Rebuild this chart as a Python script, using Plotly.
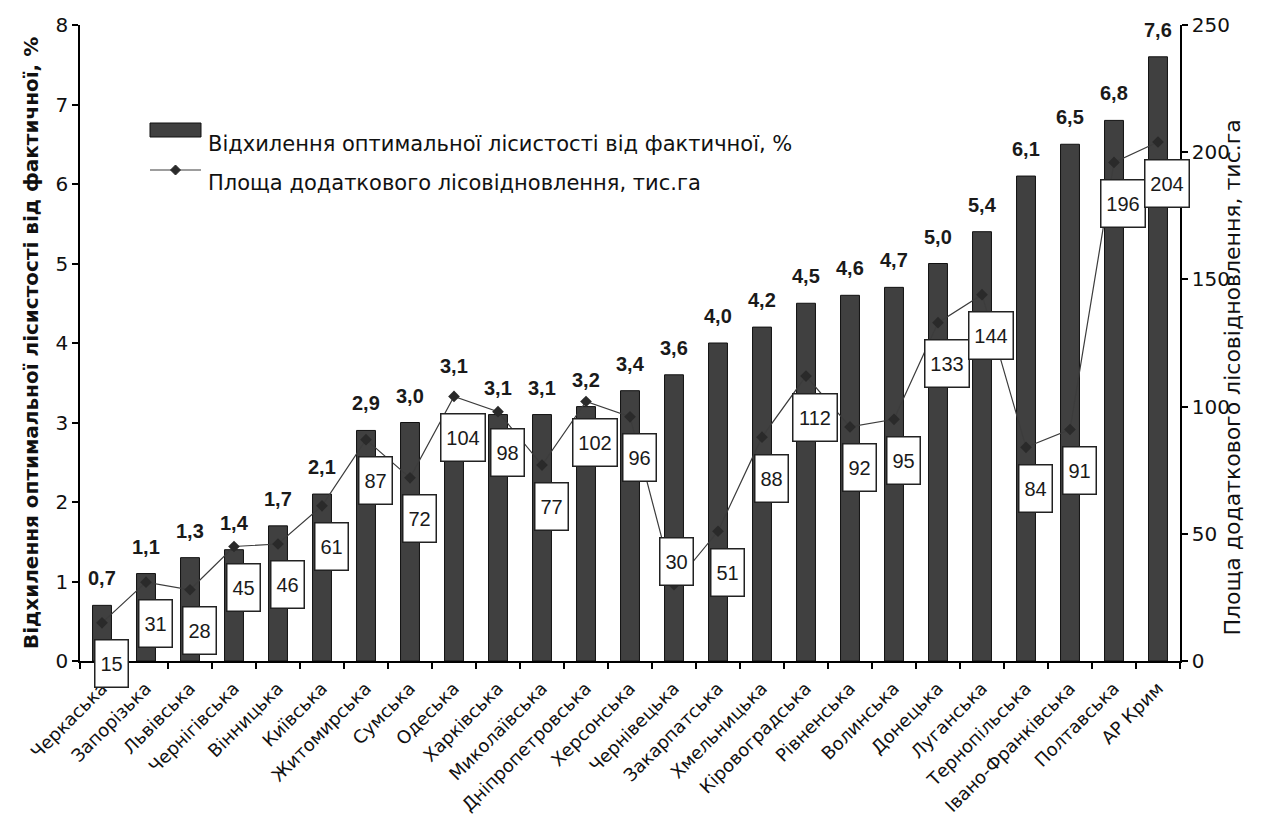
import plotly.graph_objects as go

# Regions of Ukraine, ordered by deviation
regions = [
    "Черкаська", "Запорізька", "Львівська", "Чернігівська", "Вінницька",
    "Київська", "Житомирська", "Сумська", "Одеська", "Харківська",
    "Миколаївська", "Дніпропетровська", "Херсонська", "Чернівецька",
    "Закарпатська", "Хмельницька", "Кіровоградська", "Рівненська",
    "Волинська", "Донецька", "Луганська", "Тернопільська",
    "Івано-Франківська", "Полтавська", "АР Крим",
]
# Deviation of optimal forest cover from actual, %
deviation_pct = [0.7, 1.1, 1.3, 1.4, 1.7, 2.1, 2.9, 3.0, 3.1, 3.1, 3.1, 3.2,
                 3.4, 3.6, 4.0, 4.2, 4.5, 4.6, 4.7, 5.0, 5.4, 6.1, 6.5, 6.8, 7.6]
# Area of additional reforestation, thousand ha
reforest_area = [15, 31, 28, 45, 46, 61, 87, 72, 104, 98, 77, 102, 96, 30,
                 51, 88, 112, 92, 95, 133, 144, 84, 91, 196, 204]

Y_MAX, Y2_MAX = 8, 250
W, H = 1264, 837
M_L, M_R, M_T, M_B = 80, 84, 25, 176
PLOT_W = W - M_L - M_R
PLOT_H = H - M_T - M_B
FONT = "Liberation Sans, Arial, sans-serif"
WIDE = "DejaVu Sans, Verdana, sans-serif"
DARK = "#404040"


def px_x(px):
    return (px - M_L) / PLOT_W


def px_y(py):
    return (H - M_B - py) / PLOT_H


fig = go.Figure()
fig.add_trace(go.Bar(
    x=regions, y=deviation_pct, yaxis="y",
    marker=dict(color=DARK, line=dict(color="#111111", width=1)),
    showlegend=False,
))
fig.add_trace(go.Scatter(
    x=regions, y=reforest_area, yaxis="y2", mode="lines+markers",
    line=dict(color="#3c3c3c", width=1.2),
    marker=dict(symbol="diamond", size=9, color="#2a2a2a"),
    showlegend=False,
))

annotations = []

# Bold value labels above the bars; lifted above the line marker when they would overlap it
for cat, b, v in zip(regions, deviation_pct, reforest_area):
    top = b / Y_MAX * PLOT_H
    centre = top + 27
    marker = v / Y2_MAX * PLOT_H
    if abs(marker - centre) < 14:
        centre = marker + 30
    annotations.append(dict(
        x=cat, y=b, xref="x", yref="y", text=f"{b:.1f}".replace(".", ","),
        showarrow=False, yanchor="middle", yshift=centre - top,
        font=dict(family=FONT, size=20, color="#1a1a1a", weight="bold"),
    ))

# Boxed labels for the reforestation line (placed above the point in a sharp dip)
for i, (cat, v) in enumerate(zip(regions, reforest_area)):
    prev_v = reforest_area[i - 1] if i > 0 else None
    next_v = reforest_area[i + 1] if i < len(reforest_area) - 1 else None
    dip = (prev_v is not None and next_v is not None
           and prev_v - v > 40 and next_v - v > 20)
    txt = str(v)
    annotations.append(dict(
        x=cat, y=v, xref="x", yref="y2", text=txt, showarrow=False,
        xshift=2 if dip else 9, yshift=23 if dip else -41,
        width=11 * len(txt) + 8, height=44,
        bgcolor="white", bordercolor="#222222", borderwidth=1.5, borderpad=1,
        font=dict(family=FONT, size=20, color="#1a1a1a"),
    ))

# Axis titles
annotations.append(dict(
    x=px_x(17), y=0.5, xref="paper", yref="paper", showarrow=False,
    text="Відхилення оптимальної лісистості від фактичної, %", textangle=-90,
    font=dict(family=WIDE, size=20, color="#111111", weight="bold"),
))
annotations.append(dict(
    x=px_x(1246), y=px_y(378), xref="paper", yref="paper", showarrow=False,
    text="Площа додаткового лісовідновлення, тис.га", textangle=-90,
    font=dict(family=WIDE, size=22, color="#111111"),
))

# Legend entries
annotations.append(dict(
    x=px_x(206), y=px_y(130), xref="paper", yref="paper", showarrow=False,
    xanchor="left", text="Відхилення оптимальної лісистості від фактичної, %",
    font=dict(family=WIDE, size=21, color="#111111"),
))
annotations.append(dict(
    x=px_x(206), y=px_y(169), xref="paper", yref="paper", showarrow=False,
    xanchor="left", text="Площа додаткового лісовідновлення, тис.га",
    font=dict(family=WIDE, size=21, color="#111111"),
))

shapes = [
    dict(type="rect", xref="paper", yref="paper",
         x0=px_x(150), x1=px_x(201), y0=px_y(137), y1=px_y(123),
         fillcolor=DARK, line=dict(color="#111111", width=1)),
    dict(type="line", xref="paper", yref="paper",
         x0=px_x(150), x1=px_x(201), y0=px_y(170), y1=px_y(170),
         line=dict(color="#3c3c3c", width=1.2)),
    dict(type="path", xref="paper", yref="paper",
         path=(f"M {px_x(175.5)},{px_y(165)} L {px_x(180.5)},{px_y(170)} "
               f"L {px_x(175.5)},{px_y(175)} L {px_x(170.5)},{px_y(170)} Z"),
         fillcolor="#2a2a2a", line=dict(color="#2a2a2a", width=1)),
]

axis_common = dict(
    showline=True, linecolor="black", linewidth=1.5, showgrid=False,
    zeroline=False, ticks="outside", ticklen=6, tickwidth=1.5, tickcolor="black",
)

fig.update_layout(
    width=W, height=H,
    margin=dict(l=M_L, r=M_R, t=M_T, b=M_B),
    plot_bgcolor="white", paper_bgcolor="white",
    bargap=0.57,
    xaxis=dict(
        **axis_common, type="category", tickson="boundaries",
        range=[-0.5, len(regions) - 0.5], tickangle=-45, ticklabelstandoff=8,
        tickfont=dict(family=WIDE, size=18, color="#111111"),
    ),
    xaxis2=dict(
        overlaying="x", anchor="y", range=[-0.5, len(regions) - 0.5],
        tickmode="array", tickvals=[i - 0.5 for i in range(len(regions) + 1)],
        ticks="inside", ticklen=6, tickwidth=1.5, tickcolor="black",
        showticklabels=False, showline=False, showgrid=False, zeroline=False,
    ),
    yaxis=dict(
        **axis_common, range=[0, Y_MAX], dtick=1,
        tickfont=dict(family=WIDE, size=20, color="#111111"),
    ),
    yaxis2=dict(
        **axis_common, overlaying="y", side="right", anchor="x",
        range=[0, Y2_MAX], dtick=50,
        tickfont=dict(family=WIDE, size=20, color="#111111"),
    ),
    yaxis3=dict(
        overlaying="y", side="left", anchor="x", range=[0, Y_MAX], dtick=1,
        ticks="inside", ticklen=6, tickwidth=1.5, tickcolor="black",
        showticklabels=False, showline=False, showgrid=False, zeroline=False,
    ),
    yaxis4=dict(
        overlaying="y", side="right", anchor="x", range=[0, Y2_MAX], dtick=50,
        ticks="inside", ticklen=6, tickwidth=1.5, tickcolor="black",
        showticklabels=False, showline=False, showgrid=False, zeroline=False,
    ),
    annotations=annotations,
    shapes=shapes,
)

fig.write_html("out.html")
